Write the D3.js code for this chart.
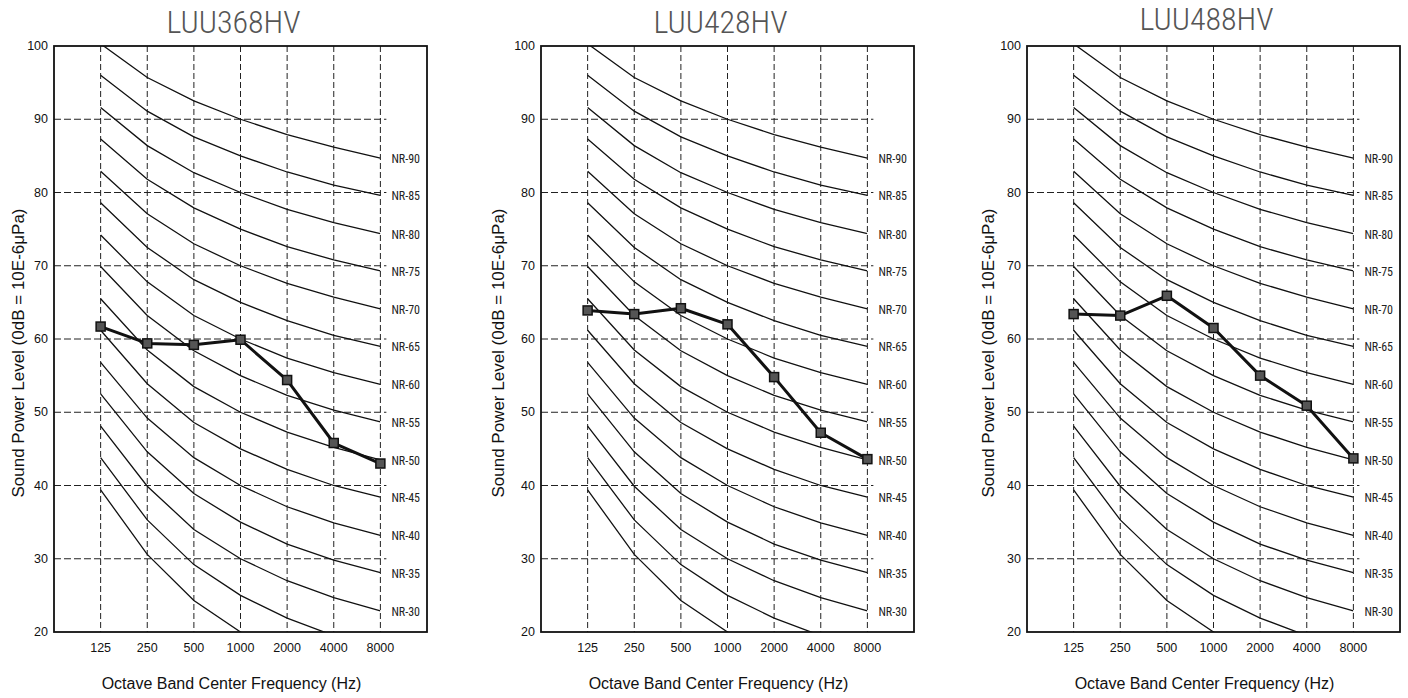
<!DOCTYPE html>
<html><head><meta charset="utf-8">
<script src="https://cdn.jsdelivr.net/npm/d3@7"></script>
<style>
html,body{margin:0;padding:0;background:#fff;}
svg{display:block;}
</style></head>
<body>
<svg id="chart" width="1408" height="698"></svg>
<script>
// ---- data ----
const models = ["LUU368HV", "LUU428HV", "LUU488HV"];
const frequencies = ["125", "250", "500", "1000", "2000", "4000", "8000"];
const yTicks = [20, 30, 40, 50, 60, 70, 80, 90, 100];
const luu368 = [61.7, 59.4, 59.2, 59.9, 54.4, 45.8, 43.0];
const luu428 = [63.9, 63.4, 64.2, 62.0, 54.8, 47.2, 43.6];
const luu488 = [63.4, 63.2, 65.9, 61.5, 55.0, 50.9, 43.7];
const nrLabels = ["NR-90","NR-85","NR-80","NR-75","NR-70","NR-65","NR-60","NR-55","NR-50","NR-45","NR-40","NR-35","NR-30","NR-25","NR-20"];
const nrCurves = [
  [100.3, 95.7, 92.5, 90, 87.9, 86.2, 84.7],
  [96.0, 91.1, 87.6, 85, 82.8, 81.0, 79.6],
  [91.6, 86.4, 82.7, 80, 77.7, 75.9, 74.4],
  [87.3, 81.8, 77.9, 75, 72.6, 70.8, 69.3],
  [82.9, 77.1, 73.0, 70, 67.6, 65.7, 64.1],
  [78.6, 72.5, 68.1, 65, 62.5, 60.5, 59.0],
  [74.2, 67.8, 63.2, 60, 57.4, 55.4, 53.8],
  [69.9, 63.2, 58.4, 55, 52.3, 50.3, 48.7],
  [65.5, 58.5, 53.5, 50, 47.3, 45.2, 43.5],
  [61.2, 53.9, 48.6, 45, 42.2, 40.0, 38.4],
  [56.8, 49.2, 43.8, 40, 37.1, 34.9, 33.2],
  [52.5, 44.6, 38.9, 35, 32.0, 29.8, 28.1],
  [48.1, 39.9, 34.0, 30, 27.0, 24.7, 22.9],
  [43.8, 35.3, 29.2, 25, 21.9, 19.5, 17.8],
  [39.4, 30.6, 24.3, 20, 16.8, 14.4, 12.6]
];
const seriesList = [luu368, luu428, luu488];

// ---- layout ----
const panelLeft = [54, 541, 1027];
const panelW = 373, plotTop = 46, plotBottom = 632;
const yLabelX = [18, 498, 988];
const titleY = [22, 22, 19];
const narrow = "'Liberation Sans Narrow','Arial Narrow','Roboto Condensed',sans-serif";
const sans = "'Liberation Sans',Arial,sans-serif";

const svg = d3.select("#chart");
svg.append("rect").attr("width",1408).attr("height",698).attr("fill","#fff");

const y = d3.scaleLinear().domain([20,100]).range([plotBottom, plotTop]);

models.forEach((m, i) => {
  const L = panelLeft[i], R = L + panelW;
  const x = d3.scalePoint().domain(frequencies).range([L, R]).padding(1);
  const xEnd = x("8000");
  const g = svg.append("g");

  const cid = "clip" + i;
  svg.append("clipPath").attr("id", cid).append("rect")
    .attr("x", L).attr("y", plotTop).attr("width", xEnd - L).attr("height", plotBottom - plotTop);

  g.selectAll(".hg").data(yTicks.filter(t => t > 20 && t < 100)).join("line")
    .attr("x1", L).attr("x2", xEnd + 6)
    .attr("y1", d => y(d)).attr("y2", d => y(d))
    .attr("stroke", "#222").attr("stroke-width", 1).attr("stroke-dasharray", "7,3");

  g.selectAll(".vg").data(frequencies).join("line")
    .attr("x1", d => x(d)).attr("x2", d => x(d))
    .attr("y1", plotTop).attr("y2", plotBottom)
    .attr("stroke", "#222").attr("stroke-width", 1).attr("stroke-dasharray", "6,3");

  const line = d3.line().x((d, k) => x(frequencies[k])).y(d => y(d));
  g.append("g").attr("clip-path", `url(#${cid})`)
    .selectAll("path").data(nrCurves).join("path")
    .attr("d", line).attr("fill", "none").attr("stroke", "#111").attr("stroke-width", 1.3);

  g.selectAll(".nrl").data(nrCurves.map((c, k) => ({v: c[6], t: nrLabels[k]})).filter(d => d.v >= 20))
    .join("text")
    .attr("x", xEnd + 11).attr("y", d => y(d.v) + 1)
    .attr("dominant-baseline", "central")
    .attr("font-family", narrow).attr("font-size", 12).attr("fill", "#222")
    .text(d => d.t);

  g.append("rect").attr("x", L).attr("y", plotTop).attr("width", panelW).attr("height", plotBottom - plotTop)
    .attr("fill", "none").attr("stroke", "#111").attr("stroke-width", 1.8);

  const data = seriesList[i];
  g.append("path").datum(data).attr("d", line)
    .attr("fill", "none").attr("stroke", "#111").attr("stroke-width", 3).attr("stroke-linejoin", "round");
  g.selectAll(".mk").data(data).join("rect")
    .attr("x", (d, k) => x(frequencies[k]) - 4.5).attr("y", d => y(d) - 4.5)
    .attr("width", 9).attr("height", 9)
    .attr("fill", "#555").attr("stroke", "#111").attr("stroke-width", 1.5);

  g.selectAll(".yt").data(yTicks).join("text")
    .attr("x", L - 6).attr("y", d => y(d)).attr("text-anchor", "end")
    .attr("dominant-baseline", "central")
    .attr("font-family", sans).attr("font-size", 12.5).attr("fill", "#111")
    .text(d => d);

  g.selectAll(".xt").data(frequencies).join("text")
    .attr("x", d => x(d)).attr("y", 648).attr("text-anchor", "middle")
    .attr("dominant-baseline", "central")
    .attr("font-family", sans).attr("font-size", 12.5).attr("fill", "#111")
    .text(d => d);

  g.append("text").attr("x", L + panelW / 2 - 9).attr("y", 683)
    .attr("text-anchor", "middle").attr("dominant-baseline", "central")
    .attr("font-family", sans).attr("font-size", 16).attr("fill", "#111")
    .text("Octave Band Center Frequency (Hz)");
  g.append("text")
    .attr("transform", `translate(${yLabelX[i]},353) rotate(-90)`)
    .attr("text-anchor", "middle").attr("dominant-baseline", "central")
    .attr("font-family", sans).attr("font-size", 17).attr("fill", "#111")
    .text("Sound Power Level (0dB = 10E-6μPa)");

  g.append("text").attr("x", L + panelW / 2 - 7).attr("y", titleY[i])
    .attr("text-anchor", "middle").attr("dominant-baseline", "central")
    .attr("font-family", narrow).attr("font-size", 32).attr("font-weight", 300).attr("fill", "#555")
    .text(m);
});
</script>
</body></html>
